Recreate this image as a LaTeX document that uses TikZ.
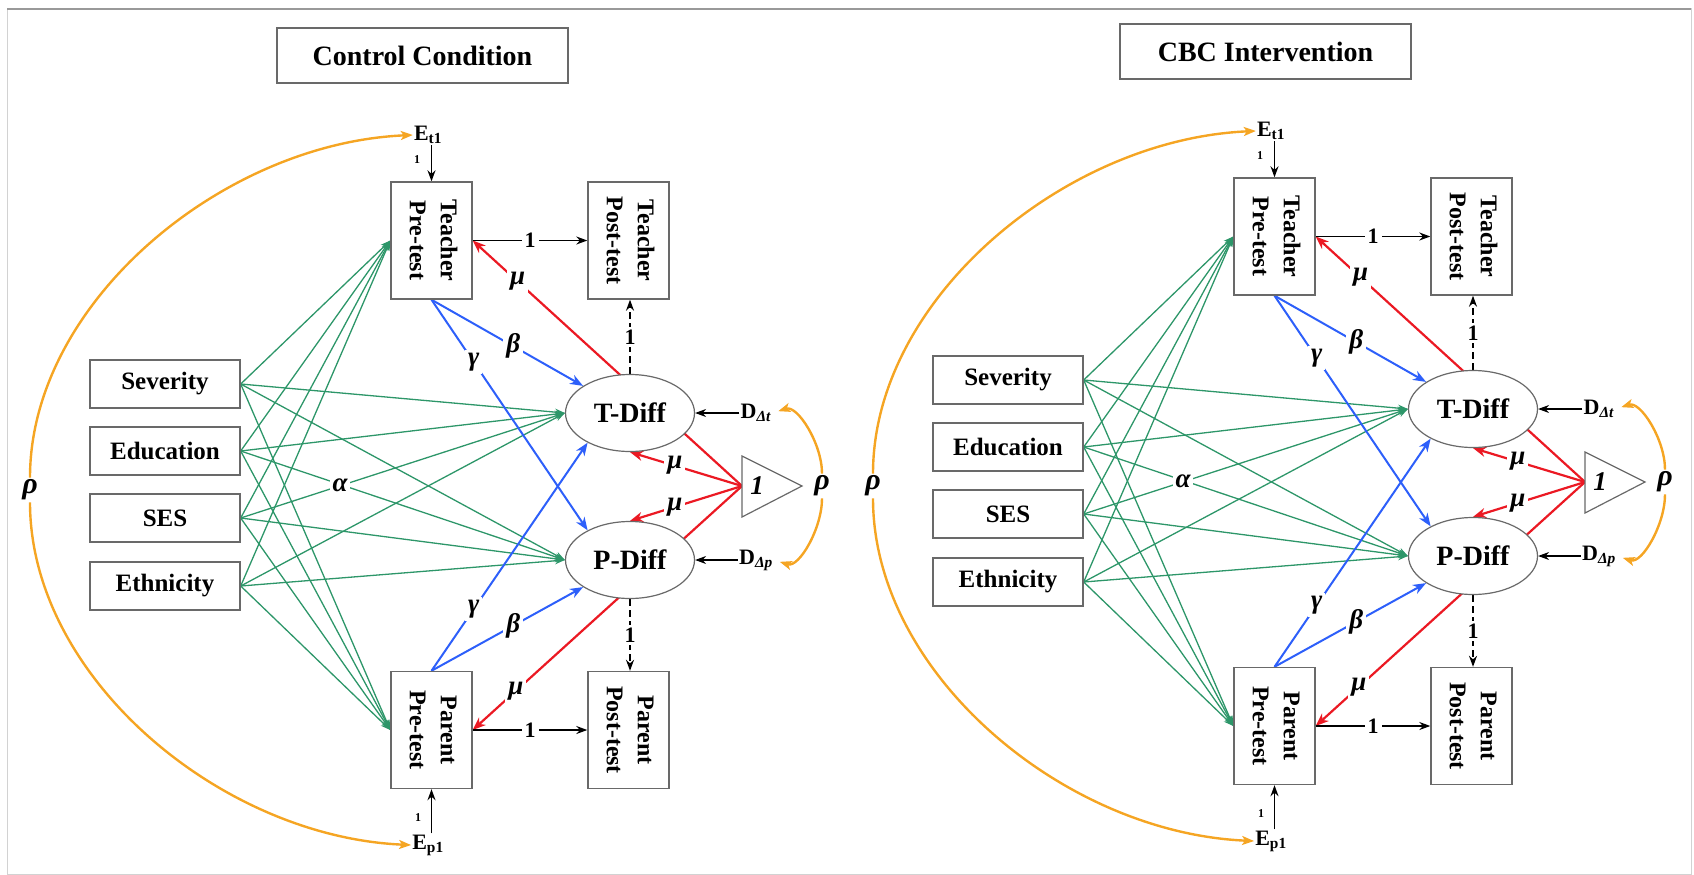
\documentclass[tikz,border=0pt]{standalone}
\usepackage{fontspec}
\setmainfont{Liberation Serif}[BoldFont={* Bold}, ItalicFont={* Italic}, BoldItalicFont={* Bold Italic}]
\usetikzlibrary{arrows.meta,backgrounds,shapes.geometric}

\definecolor{boxgray}{RGB}{105,105,105}
\definecolor{semgreen}{RGB}{45,150,105}
\definecolor{semblue}{RGB}{45,95,250}
\definecolor{semred}{RGB}{235,25,35}
\definecolor{semorange}{RGB}{245,165,35}

\tikzset{
  titlebox/.style={draw=boxgray, line width=1.4pt, minimum width=291pt, minimum height=55pt,
    inner sep=0pt, font=\fontsize{28}{30}\selectfont\bfseries},
  covbox/.style={draw=boxgray, line width=1.4pt, minimum width=150pt, minimum height=48pt,
    inner sep=0pt, font=\fontsize{25}{27}\selectfont\bfseries},
  obsbox/.style={draw=boxgray, line width=1.4pt, fill=white, minimum width=81pt, minimum height=117pt,
    inner sep=0pt, font=\fontsize{24}{31}\selectfont\bfseries},
  latent/.style={ellipse, draw=boxgray, line width=1.2pt, fill=white, minimum width=129pt,
    minimum height=77pt, inner sep=0pt, font=\fontsize{28}{30}\selectfont\bfseries},
  greek/.style={text=black, font=\fontsize{27}{29}\selectfont\bfseries\itshape, inner sep=1.5pt},
  bigrho/.style={text=black, font=\fontsize{30}{32}\selectfont\bfseries\itshape, inner sep=2pt},
  gap/.style={fill=white, inner sep=3pt},
  onelab/.style={text=black, font=\fontsize{22}{24}\selectfont\bfseries, fill=white, inner sep=3pt},
  smallone/.style={font=\fontsize{12}{12}\selectfont\bfseries, inner sep=0pt},
  errlab/.style={font=\fontsize{22}{24}\selectfont\bfseries, inner sep=1pt},
  grnarr/.style={semgreen, line width=1.3pt, -{Stealth[length=10pt,width=7pt]}},
  bluarr/.style={semblue, line width=2pt, -{Stealth[length=13pt,width=10pt,inset=4pt]}},
  redarr/.style={semred, line width=2.2pt, -{Stealth[length=13pt,width=10pt,inset=4pt]}},
  blkarr/.style={black, line width=1.4pt, -{Stealth[length=11pt,width=8pt]}},
  orgarr/.style={semorange, line width=2.4pt, -{Stealth[length=12pt,width=9pt,inset=3pt]}},
}

% two-line label turned to read from top to bottom
\newcommand\obslabel[2]{\rotatebox{-90}{\begin{tabular}{@{}c@{}}#1\\#2\end{tabular}}}

% one path model: #1 name prefix, #2 shift, #3 title
\newcommand\sempanel[3]{%
\begin{scope}[shift={#2}, name prefix=#1-]
  \node[titlebox] (title) at (422.5,55.5) {#3};

  % observed scores
  \node[obsbox] (TPre)  at (431.5,240.5) {\obslabel{Teacher}{Pre-test}};
  \node[obsbox] (TPost) at (628.5,240.5) {\obslabel{Teacher}{Post-test}};
  \node[obsbox] (PPre)  at (431.5,730)   {\obslabel{Parent}{Pre-test}};
  \node[obsbox] (PPost) at (628.5,730)   {\obslabel{Parent}{Post-test}};

  % covariates
  \node[covbox] (Sev) at (165,384) {Severity};
  \node[covbox] (Edu) at (165,451) {Education};
  \node[covbox] (SES) at (165,518) {SES};
  \node[covbox] (Eth) at (165,586) {Ethnicity};

  % latent change scores
  \node[latent] (TDiff) at (630,413) {T-Diff};
  \node[latent] (PDiff) at (630,560) {P-Diff};

  % disturbances and errors
  \node[errlab] (Dt) at (756,413) {D\textsubscript{\textit{Δt}}};
  \node[errlab] (Dp) at (756,560) {D\textsubscript{\textit{Δp}}};
  \node[errlab] (Et) at (428,135) {E\textsubscript{t1}};
  \node[errlab] (Ep) at (428,845) {E\textsubscript{p1}};
  \node[smallone] (Et1) at (417,160) {1};
  \node[smallone] (Ep1) at (418,818) {1};

  % constant
  \draw[boxgray, line width=1.2pt, fill=white] (742,456) -- (802,486) -- (742,517) -- cycle;
  \coordinate (K) at (742,486);
  \node[greek] (one) at (757,486) {1};

  \node[bigrho] (rhoL) at (30,490) {ρ};
  \node[bigrho] (rhoR) at (822,486) {ρ};

  \begin{scope}[on background layer]
    % covariate paths
    \foreach \c in {Sev,Edu,SES,Eth}
      \foreach \t in {TPre.west,PPre.west,TDiff.west,PDiff.west}
        \draw[grnarr] (\c.east) -- (\t);
    \node[greek, gap] (alpha) at (340,485) {α};

    % means from the constant
    \draw[redarr] (K) -- node[pos=0.833, greek, gap] {μ} (TPre.east);
    \draw[redarr] (K) -- node[pos=0.84, greek, gap] {μ} (PPre.east);
    \draw[redarr] (K) -- node[pos=0.6, greek, gap] {μ} (TDiff.south);
    \draw[redarr] (K) -- node[pos=0.6, greek, gap] {μ} (PDiff.north);

    % pre-test effects on change
    \draw[bluarr] (TPre.south) -- node[pos=0.54, greek, gap] {β} (TDiff.150);
    \draw[bluarr] (TPre.south) -- node[pos=0.27, greek, gap] {γ} (PDiff.145);
    \draw[bluarr] (PPre.north) -- node[pos=0.54, greek, gap] {β} (PDiff.210);
    \draw[bluarr] (PPre.north) -- node[pos=0.27, greek, gap] {γ} (TDiff.215);

    % fixed loadings
    \draw[blkarr] (TPre.east) -- node[onelab] {1} (TPost.west);
    \draw[blkarr] (PPre.east) -- node[onelab] {1} (PPost.west);
    \draw[blkarr, dash pattern=on 7pt off 4pt] (TDiff.north) -- node[onelab] {1} (TDiff.north |- TPost.south);
    \draw[blkarr, dash pattern=on 7pt off 4pt] (PDiff.south) -- node[onelab] {1} (PDiff.south |- PPost.north);
    \draw[blkarr] (Dt.west) -- (TDiff.east);
    \draw[blkarr] (Dp.west) -- (PDiff.east);
    \draw[blkarr] (Et.south -| TPre.north) -- (TPre.north);
    \draw[blkarr] (Ep.north -| PPre.south) -- (PPre.south);

    % covariances
    \draw[orgarr] (rhoL.north) .. controls +(0,-175) and +(-190,8) .. (Et.west);
    \draw[orgarr] (rhoL.south) .. controls +(0,175) and +(-190,-8) .. (Ep.west);
    \draw[orgarr, shorten >=6pt] (rhoR.north) .. controls +(0,-30) and +(25,-8) .. (Dt.east);
    \draw[orgarr, shorten >=6pt] (rhoR.south) .. controls +(0,30) and +(25,8) .. (Dp.east);
  \end{scope}
\end{scope}}

\begin{document}
\begin{tikzpicture}[x=1pt, y=-1pt]
  \useasboundingbox (0,0) rectangle (1694,875);
  \begin{scope}[on background layer]
    \draw[gray!35, line width=1pt] (7,9) rectangle (1691,874);
    \draw[gray!80, line width=2.5pt] (7,9) -- (1691,9);
  \end{scope}

  \sempanel{L}{(0,0)}{Control Condition}
  \sempanel{R}{(843,-4)}{CBC Intervention}
\end{tikzpicture}
\end{document}
